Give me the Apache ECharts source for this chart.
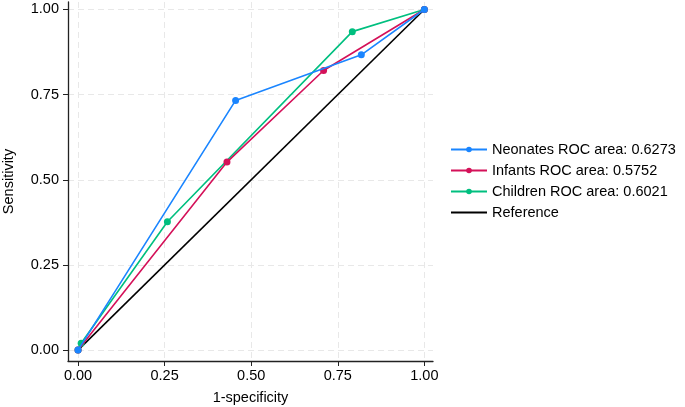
<!DOCTYPE html>
<html><head><meta charset="utf-8">
<script src="https://cdn.jsdelivr.net/npm/echarts@6/dist/echarts.min.js"></script>
<style>html,body{margin:0;padding:0;background:#fff}#c{width:685px;height:407px}</style>
</head><body><div id="c"></div>
<script>
var tickValues = [0, 0.25, 0.5, 0.75, 1];
var neonatesX = [0, 0.455, 0.818, 1];
var neonatesY = [0, 0.733, 0.867, 1];
var infantsX = [0, 0.43, 0.709, 1];
var infantsY = [0, 0.552, 0.821, 1];
var childrenX = [0, 0.009, 0.258, 0.792, 1];
var childrenY = [0, 0.02, 0.377, 0.935, 1];
var referenceX = [0, 1];
var referenceY = [0, 1];
var names = ['Neonates ROC area: 0.6273', 'Infants ROC area: 0.5752', 'Children ROC area: 0.6021', 'Reference'];
var colors = ['#1a85ff', '#d41159', '#00bf7f', '#000000'];

function pairs(xs, ys){ return xs.map(function(x,i){return [x, ys[i]];}); }
var font = 'Liberation Sans, Arial, sans-serif';
function axis(name, isY){
  return {
    type: 'value', min: isY ? -0.032 : -0.029, max: isY ? 1.022 : 1.025,
    name: name, nameLocation: 'middle', nameGap: isY ? 52 : 29,
    nameTextStyle: {color: '#000', fontSize: 14.5, fontFamily: font},
    axisLine: {show: true, onZero: false, lineStyle: {color: '#222', width: 1.3}},
    axisTick: {show: true, length: 5, customValues: tickValues, lineStyle: {color: '#222', width: 1}},
    axisLabel: {customValues: tickValues, color: '#000', fontSize: 14.5, fontFamily: font, margin: isY ? 9 : 7,
      formatter: function(v){ return v.toFixed(2); }},
    splitLine: {show: true, lineStyle: {color: '#e8e8e8', type: [6, 4], width: 1}}
  };
}
var series = [];
var data = [pairs(neonatesX, neonatesY), pairs(infantsX, infantsY), pairs(childrenX, childrenY), pairs(referenceX, referenceY)];
for (var i = 0; i < 4; i++) {
  series.push({
    type: 'line', name: names[i], data: data[i],
    symbol: i < 3 ? 'circle' : 'none', symbolSize: 7, showSymbol: i < 3,
    lineStyle: {color: colors[i], width: 1.6}, itemStyle: {color: colors[i]},
    animation: false, z: 10 - i
  });
}
var chart = echarts.init(document.getElementById('c'));
chart.setOption({
  backgroundColor: '#fff',
  grid: {left: 68, right: 252, top: 2, bottom: 46, containLabel: false, outerBoundsMode: 'none'},
  xAxis: axis('1-specificity', false),
  yAxis: axis('Sensitivity', true),
  legend: {orient: 'vertical', left: 445, top: 137, itemWidth: 36, itemHeight: 7, itemGap: 6,
    textStyle: {color: '#000', fontSize: 14.5, fontFamily: font},
    data: [names[0], names[1], names[2], {name: names[3], itemStyle: {opacity: 0}}]},
  series: series
});
</script></body></html>
